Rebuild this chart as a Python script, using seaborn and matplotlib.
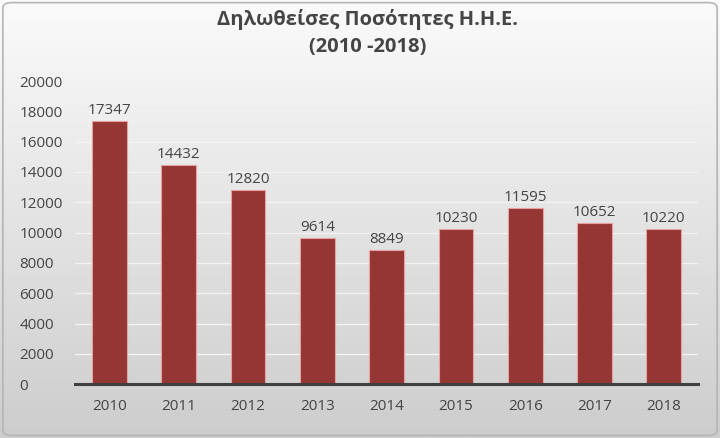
import numpy as np
import pandas as pd
import matplotlib
matplotlib.use("Agg")
import matplotlib.pyplot as plt
import seaborn as sns
from matplotlib.patches import FancyBboxPatch
from matplotlib.colors import LinearSegmentedColormap

years = ["2010", "2011", "2012", "2013", "2014", "2015", "2016", "2017", "2018"]
values = [17347, 14432, 12820, 9614, 8849, 10230, 11595, 10652, 10220]
yticks = [0, 2000, 4000, 6000, 8000, 10000, 12000, 14000, 16000, 18000, 20000]
title = "Δηλωθείσες Ποσότητες Η.Η.Ε.\n(2010 -2018)"

sns.set_theme(style="white")
plt.rcParams['font.family'] = ['Open Sans', 'DejaVu Sans']

df = pd.DataFrame({"year": years, "value": values})

fig = plt.figure(figsize=(7.2, 4.38), dpi=100)

# gradient background
bg = fig.add_axes([0, 0, 1, 1], zorder=0)
grad = np.linspace(0, 1, 256).reshape(-1, 1)
cmap = LinearSegmentedColormap.from_list("g", ["#fbfbfb", "#cdcdcd"])
bg.imshow(grad, aspect="auto", cmap=cmap, extent=[0, 1, 0, 1], origin="upper")
bg.add_patch(FancyBboxPatch((0.004, 0.006), 0.992, 0.988,
                            boxstyle="round,pad=0,rounding_size=0.012",
                            transform=bg.transAxes, fill=False,
                            edgecolor="#b5b5b5", linewidth=1.2))
bg.set_xlim(0, 1); bg.set_ylim(0, 1)
bg.axis("off")

ax = fig.add_axes([0.104, 0.123, 0.866, 0.692], zorder=1)
ax.patch.set_alpha(0)
sns.barplot(data=df, x="year", y="value", ax=ax, color="#943634",
            width=0.5, edgecolor="#e8a09e", linewidth=0.8, saturation=1)

txtc = "#454545"
ax.set_ylim(0, 20000)
ax.set_yticks(yticks)
ax.set_yticklabels([str(t) for t in yticks], ha="left")
ax.yaxis.grid(True, color="#f2f2f2", linewidth=1.0)
ax.set_axisbelow(True)
for s in ["top", "right", "left"]:
    ax.spines[s].set_visible(False)
ax.spines["bottom"].set_color("#404040")
ax.spines["bottom"].set_linewidth(2.2)
ax.set_xlabel("")
ax.set_ylabel("")
ax.tick_params(axis="both", length=0, labelsize=11, colors=txtc)
ax.tick_params(axis="x", pad=11)
ax.tick_params(axis="y", pad=40)

for i, v in enumerate(values):
    ax.text(i, v + 200, str(v), ha="center", va="bottom", fontsize=11, color=txtc)

fig.text(0.51, 0.925, title, ha="center", va="center", fontsize=14.5,
         fontweight="bold", color=txtc, linespacing=1.45, zorder=3)

fig.savefig("out.png", dpi=100)
